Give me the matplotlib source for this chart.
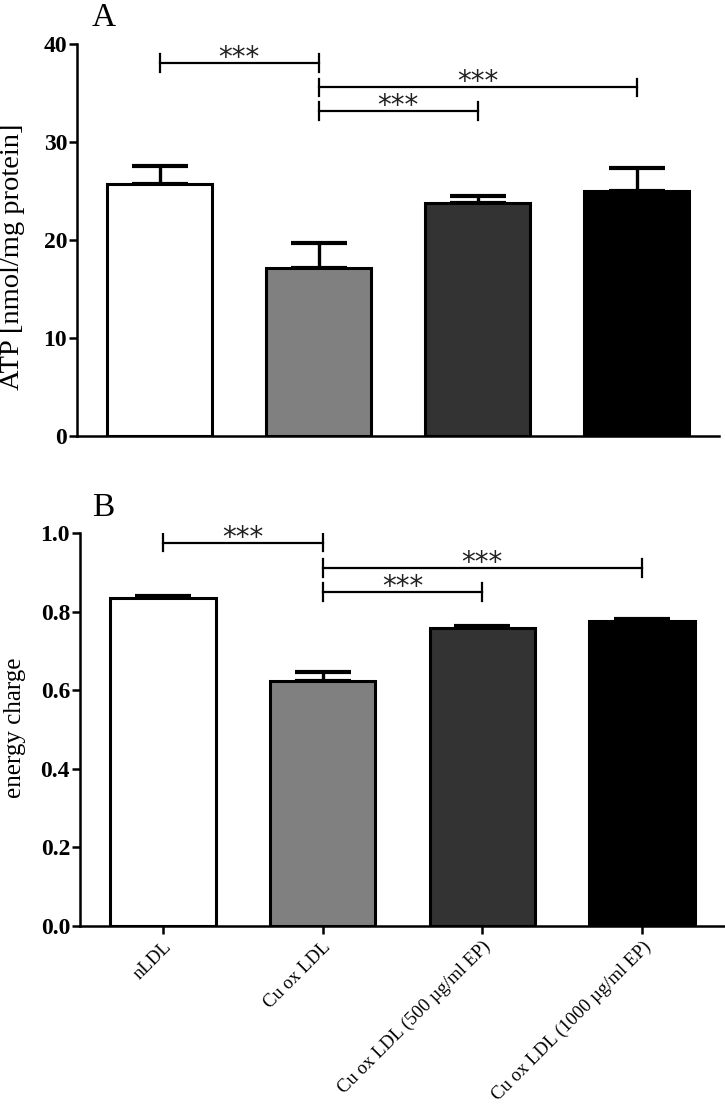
import numpy as np
import matplotlib.pyplot as plt

plt.rcParams['font.family'] = ['Liberation Serif', 'DejaVu Serif']

groups = ['nLDL', 'Cu ox LDL', 'Cu ox LDL (500 µg/ml EP)', 'Cu ox LDL (1000 µg/ml EP)']
colors = ['white', '#808080', '#333333', 'black']

atp_mean = [25.7, 17.2, 23.8, 25.0]
atp_err = [1.9, 2.5, 0.7, 2.4]

ec_mean = [0.834, 0.624, 0.758, 0.777]
ec_err = [0.005, 0.023, 0.006, 0.005]

# brackets: (from, to, height)
atp_sig = [(0, 1, 38.1), (1, 3, 35.6), (1, 2, 33.2)]
ec_sig = [(0, 1, 0.975), (1, 3, 0.911), (1, 2, 0.850)]

fig = plt.figure(figsize=(7.25, 11.08), dpi=100)
axA = fig.add_axes([0.106, 0.6065, 0.886, 0.3535])
axB = fig.add_axes([0.110, 0.1645, 0.890, 0.3545])

x = np.arange(len(groups))


def draw_panel(ax, mean, err, sig, ylim, yticks, fmt, tick_h):
    ax.bar(x, mean, width=0.66, color=colors, edgecolor='black', linewidth=2.2, zorder=2)
    # error bars nur nach oben
    ax.errorbar(x, mean, yerr=[np.zeros(len(err)), err], fmt='none', ecolor='black',
                elinewidth=2.4, capsize=20, capthick=3, zorder=1)
    for a, b, h in sig:
        ax.plot([a, b], [h, h], color='black', lw=1.6, zorder=3)
        ax.plot([a, a], [h - tick_h, h + tick_h], color='black', lw=1.6)
        ax.plot([b, b], [h - tick_h, h + tick_h], color='black', lw=1.6)
        ax.annotate('***', xy=((a + b) / 2, h), xytext=(0, -2), textcoords='offset points',
                    ha='center', va='baseline', fontsize=20, family='DejaVu Sans',
                    color='#222222')
    ax.set_xlim(-0.52, 3.52)
    ax.set_ylim(*ylim)
    ax.set_yticks(yticks)
    ax.set_yticklabels([fmt.format(v) for v in yticks], fontsize=17, fontweight='bold')
    ax.spines['top'].set_visible(False)
    ax.spines['right'].set_visible(False)
    ax.spines['left'].set_linewidth(1.8)
    ax.spines['bottom'].set_linewidth(1.8)
    ax.tick_params(axis='y', width=1.8, length=6, pad=1)


draw_panel(axA, atp_mean, atp_err, atp_sig, (0, 40), [0, 10, 20, 30, 40], '{:.0f}', 0.9)
axA.set_xticks([])
axA.set_ylabel('ATP [nmol/mg protein]', fontsize=20.5)
axA.yaxis.set_label_coords(-0.081, 0.457)

draw_panel(axB, ec_mean, ec_err, ec_sig, (0, 1.0), [0.0, 0.2, 0.4, 0.6, 0.8, 1.0], '{:.1f}', 0.022)
axB.set_xticks(x)
axB.set_xticklabels(groups, rotation=45, ha='right', rotation_mode='anchor', fontsize=13.5)
axB.tick_params(axis='x', width=1.8, length=6, pad=3)
axB.set_ylabel('energy charge', fontsize=18)
axB.yaxis.set_label_coords(-0.084, 0.505)

# Panel-Buchstaben
fig.text(92 / 725, 1 - 26 / 1108, 'A', fontsize=24, ha='left', va='baseline')
fig.text(92 / 725, 1 - 516 / 1108, 'B', fontsize=24, ha='left', va='baseline')

fig.savefig('out.png', dpi=100)
